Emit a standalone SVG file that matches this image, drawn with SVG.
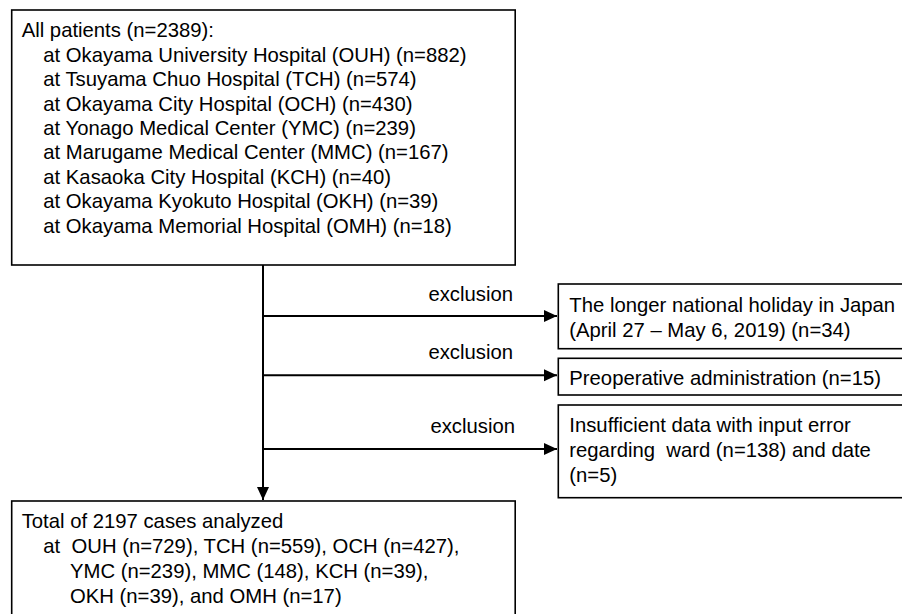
<svg xmlns="http://www.w3.org/2000/svg" width="902" height="614" viewBox="0 0 902 614">
<style>
.box{fill:#fff;stroke:#000;stroke-width:1.6}
.t{font-family:"Liberation Sans",Arial,sans-serif;font-size:20.3px;fill:#000;white-space:pre}
.e{text-anchor:end}
.c{stroke:#000;stroke-width:2;fill:none}
</style>
<defs>
<marker id="ah" markerUnits="userSpaceOnUse" markerWidth="14" markerHeight="14" viewBox="0 0 14 14" refX="13" refY="7" orient="auto">
<path d="M0,1 L13,7 L0,13 Z" fill="#000"/>
</marker>
</defs>
<g id="connectors">
<line class="c" x1="263" y1="265" x2="263" y2="500" marker-end="url(#ah)"/>
<line class="c" x1="263" y1="316" x2="557" y2="316" marker-end="url(#ah)"/>
<line class="c" x1="263" y1="375.3" x2="557" y2="375.3" marker-end="url(#ah)"/>
<line class="c" x1="263" y1="449" x2="557" y2="449" marker-end="url(#ah)"/>
<text class="t e" x="513" y="300.7">exclusion</text>
<text class="t e" x="513" y="359">exclusion</text>
<text class="t e" x="515" y="433.3">exclusion</text>
</g>
<g id="all-patients">
<rect class="box" x="11.7" y="10" width="503.5" height="255"/>
<text class="t" x="21.7" y="37.3">All patients (n=2389):</text>
<text class="t" x="43.3" y="61.7">at Okayama University Hospital (OUH) (n=882)</text>
<text class="t" x="43.3" y="86.1">at Tsuyama Chuo Hospital (TCH) (n=574)</text>
<text class="t" x="43.3" y="110.5">at Okayama City Hospital (OCH) (n=430)</text>
<text class="t" x="43.3" y="134.9">at Yonago Medical Center (YMC) (n=239)</text>
<text class="t" x="43.3" y="159.3">at Marugame Medical Center (MMC) (n=167)</text>
<text class="t" x="43.3" y="183.7">at Kasaoka City Hospital (KCH) (n=40)</text>
<text class="t" x="43.3" y="208.1">at Okayama Kyokuto Hospital (OKH) (n=39)</text>
<text class="t" x="43.3" y="232.5">at Okayama Memorial Hospital (OMH) (n=18)</text>
</g>
<g id="excl-holiday">
<rect class="box" x="558.3" y="284" width="360" height="64.7"/>
<text class="t" x="569.3" y="311.7">The longer national holiday in Japan</text>
<text class="t" x="569.3" y="336.7">(April 27 – May 6, 2019) (n=34)</text>
</g>
<g id="excl-preop">
<rect class="box" x="558.3" y="358.3" width="360" height="36.7"/>
<text class="t" x="569.3" y="385">Preoperative administration (n=15)</text>
</g>
<g id="excl-insufficient">
<rect class="box" x="558.3" y="405" width="360" height="92.7"/>
<text class="t" x="569.3" y="431.7">Insufficient data with input error</text>
<text class="t" x="569.3" y="456.7">regarding  ward (n=138) and date</text>
<text class="t" x="569.3" y="481.7">(n=5)</text>
</g>
<g id="analyzed">
<rect class="box" x="11.7" y="501" width="503.5" height="130"/>
<text class="t" x="21.7" y="528.3">Total of 2197 cases analyzed</text>
<text class="t" x="43.3" y="553.3">at  OUH (n=729), TCH (n=559), OCH (n=427),</text>
<text class="t" x="70" y="578.3">YMC (n=239), MMC (148), KCH (n=39),</text>
<text class="t" x="70" y="603.3">OKH (n=39), and OMH (n=17)</text>
</g>
</svg>
